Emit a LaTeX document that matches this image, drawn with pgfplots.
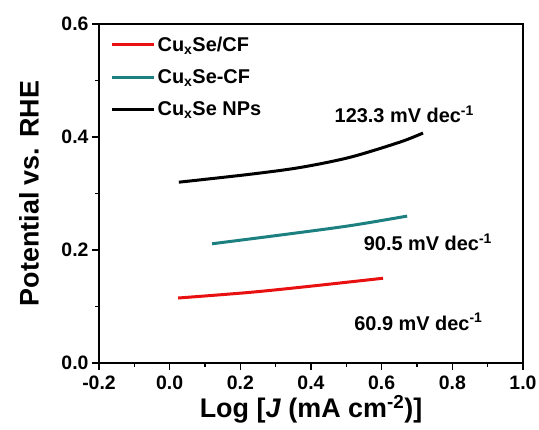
\documentclass[border=0pt]{standalone}
\usepackage{pgfplots}
\pgfplotsset{compat=1.18}
\usepackage{fontspec}
\setmainfont{Liberation Sans}

\definecolor{cfred}{RGB}{232,16,16}
\definecolor{cfteal}{RGB}{28,128,128}

\begin{document}
\begin{tikzpicture}
\begin{axis}[
    scale only axis,
    width=424bp, height=339bp,
    xmin=-0.2, xmax=1.0,
    ymin=0, ymax=0.6,
    xtick={-0.2,0,0.2,0.4,0.6,0.8,1.0},
    ytick={0,0.2,0.4,0.6},
    minor x tick num=1,
    minor y tick num=1,
    xtick pos=bottom, ytick pos=left,
    tick align=outside,
    major tick length=7bp, minor tick length=4bp,
    axis line style={line width=1.6bp},
    every tick/.style={line width=1.3bp, black},
    /pgf/number format/assume math mode=true,
    /pgf/number format/fixed,
    /pgf/number format/fixed zerofill,
    /pgf/number format/precision=1,
    ticklabel style={font=\fontsize{19.5}{19.5}\selectfont\bfseries},
    xticklabel style={yshift=-2bp},
    xlabel={\textbf{Log [\textit{J} (mA cm\textsuperscript{-2})]}},
    ylabel={\textbf{Potential vs. RHE}},
    label style={font=\fontsize{27}{27}\selectfont\bfseries},
    xlabel style={at={(axis description cs:0.5,-0.136)}, anchor=center},
    ylabel style={at={(axis description cs:-0.165,0.5)}, anchor=center},
    legend style={at={(0.02,0.975)}, anchor=north west, draw=none, fill=none,
        font=\fontsize{20}{20}\selectfont\bfseries, row sep=13bp},
    legend cell align=left,
    legend image code/.code={\draw[#1] (0bp,0bp) -- (42bp,0bp);},
]
\addplot[cfred, line width=3bp, smooth] coordinates {
    (0.024,0.115) (0.227,0.125) (0.40,0.136) (0.604,0.150)
};
\addlegendentry{Cu\textsubscript{x}Se/CF}
\addplot[cfteal, line width=3bp, smooth] coordinates {
    (0.12,0.211) (0.32,0.227) (0.51,0.243) (0.672,0.260)
};
\addlegendentry{Cu\textsubscript{x}Se-CF}
\addplot[black, line width=3bp, smooth] coordinates {
    (0.026,0.320) (0.227,0.334) (0.369,0.346) (0.51,0.364) (0.652,0.391) (0.717,0.407)
};
\addlegendentry{Cu\textsubscript{x}Se NPs}

\node[font=\fontsize{20}{20}\selectfont\bfseries] at (axis cs:0.664,0.440) {123.3 mV dec\textsuperscript{-1}};
\node[font=\fontsize{20}{20}\selectfont\bfseries] at (axis cs:0.731,0.214) {90.5 mV dec\textsuperscript{-1}};
\node[font=\fontsize{20}{20}\selectfont\bfseries] at (axis cs:0.704,0.073) {60.9 mV dec\textsuperscript{-1}};
\end{axis}
\pgfresetboundingbox
\path[use as bounding box] ([shift={(-99bp,-67bp)}]current axis.south west) rectangle ([shift={(16bp,24bp)}]current axis.north east);
\end{tikzpicture}
\end{document}
